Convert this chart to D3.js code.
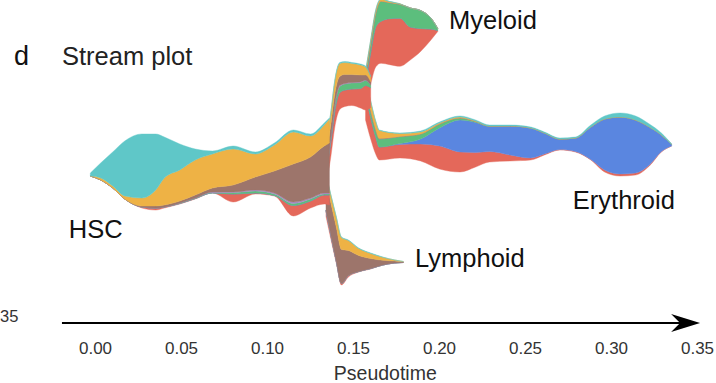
<!DOCTYPE html>
<html>
<head>
<meta charset="utf-8">
<script src="https://cdn.jsdelivr.net/npm/d3@7"></script>
<style>
  html, body { margin: 0; padding: 0; background: #fff; }
  svg { display: block; font-family: "Liberation Sans", Arial, sans-serif; }
</style>
</head>
<body>
<svg id="chart" width="716" height="383"></svg>
<script>
// ---------------------------------------------------------------------------
// Cell types (stack order, top to bottom) and their colours
const cellTypes = ['LTHSC', 'MPP', 'LMPP', 'HSPC', 'GMP', 'MEP', 'CMP'];
const cellColours = ['#5fc7c8', '#eeb245', '#9d756b', '#a98ac9', '#5cbe7d', '#5a86e0', '#e4685a'];

const ticks = [0.00, 0.05, 0.10, 0.15, 0.20, 0.25, 0.30, 0.35];

// Each branch: pseudotime, stream centre (layout units, up = +), and
// per-cell-type widths (one row per cell type, same order as cellTypes).

// HSC trunk
const hscTime   = [-0.003, 0.003, 0.010, 0.017, 0.027, 0.035, 0.040, 0.049, 0.058, 0.068, 0.080, 0.093, 0.104, 0.115, 0.125, 0.133, 0.136];
const hscCentre = [15.5, 18.5, 20, 20, 19, 18, 17.5, 16, 16, 18, 16, 17, 20.5, 17, 19, 26.5, 28.5];
const hscCells = [
  [3, 15, 34, 55, 64, 56, 41, 26, 11, 3, 3, 2, 2, 2, 2, 2, 1],
  [0, 2, 2, 3, 8, 16, 27, 31, 35, 34, 36, 23, 26, 32, 21, 21, 24],
  [0, 0, 0, 0, 1, 2, 2, 2, 3, 4, 7, 13, 22, 38, 41, 47, 50],
  [0, 0, 0, 0, 0, 0, 0, 0, 0, 0.5, 0.5, 1, 1, 1.5, 1, 1, 1],
  [0, 0, 0, 0, 0, 0, 0, 0.5, 0.5, 0.5, 1.5, 2, 1.5, 2, 2, 1, 1],
  [0, 0, 0, 0, 0, 0, 0, 0, 0, 0, 0, 0, 0, 0, 0, 0, 0],
  [0, 0, 0, 0, 1, 2, 1, 0.5, 0.5, 0, 8, 1, 0.5, 10.5, 7, 9, 10]
];

// common myeloid/erythroid progenitor branch
const preTime   = [0.134, 0.137, 0.139, 0.142, 0.145, 0.149, 0.154, 0.157, 0.160];
const preCentre = [25, 58, 85, 104, 106, 106, 104, 102, 98];
const preCells = [
  [1, 1, 1, 1, 1, 1, 1, 1, 0.5],
  [12, 12, 13, 13, 12, 11, 10, 8, 5],
  [14, 13, 11, 9, 9, 8, 7, 5, 3],
  [1, 1, 1, 1, 0.5, 0.5, 0.5, 0.5, 0],
  [2, 3, 5, 6, 6, 6, 6, 5, 3],
  [0, 0, 0, 0, 0, 0, 0, 0, 0],
  [14, 15, 16, 17, 16.5, 16.5, 19.5, 24.5, 20]
];

// Myeloid branch
const myeTime   = [0.157, 0.160, 0.163, 0.166, 0.171, 0.177, 0.183, 0.189, 0.195, 0.199];
const myeCentre = [100, 128, 152, 159, 157, 155, 156, 159, 161, 160];
const myeCells = [
  [0.5, 0.5, 0.5, 0.5, 0.3, 0, 0, 0, 0, 0],
  [3, 3, 3, 2, 1, 0.5, 0, 0, 0, 0],
  [2, 1, 0, 0, 0, 0, 0, 0, 0, 0],
  [0, 0, 0, 0, 0, 0, 0, 0, 0, 0],
  [6, 8, 14, 20, 16, 14, 19, 18, 11, 2],
  [0, 0, 0, 0, 0, 0, 0, 0, 0, 0],
  [26, 32, 40, 42, 46, 48, 33, 23, 11, 1]
];

// Erythroid branch
const eryTime   = [0.157, 0.160, 0.163, 0.165, 0.177, 0.189, 0.200, 0.212, 0.221, 0.229, 0.241, 0.253, 0.261, 0.270, 0.279, 0.288, 0.296, 0.305, 0.314, 0.322, 0.329, 0.335];
const eryCentre = [90, 70, 52, 45, 44.5, 44, 44.5, 46, 46.5, 46.5, 47, 46.5, 46.5, 46, 45.5, 47.5, 46, 45.5, 44.5, 45, 47.5, 45];
const eryCells = [
  [0.5, 0.5, 0.5, 0.5, 0.5, 1, 1, 1, 1, 1, 1, 1, 1, 1, 1, 2, 3, 4, 4, 3, 2, 0.5],
  [8, 9, 8, 8, 3, 2, 1, 1, 0.5, 0, 0, 0, 0, 0, 0, 0, 0, 0, 0, 0, 0, 0],
  [2, 1, 0.5, 0.5, 0, 0, 0, 0, 0, 0, 0, 0, 0, 0, 0, 0, 0, 0, 0, 0, 0, 0],
  [0.5, 0, 0, 0, 0, 0, 0, 0, 0, 0, 0, 0, 0, 0, 0, 0, 0, 0, 0, 0, 0, 0],
  [4, 6, 7, 8, 7, 5, 4, 2, 1, 0.5, 0, 0, 0, 0, 0, 0, 0, 0, 0, 0, 0, 0],
  [0, 0, 0, 0, 1, 5, 18, 32, 30, 25, 29, 30, 21, 10.5, 13.5, 32.5, 51, 57, 53, 38, 16.5, 1.5],
  [25, 21.5, 17, 13, 13.5, 17, 23, 20, 14.5, 10.5, 6, 2, 1, 0.5, 0.5, 0.5, 2, 2, 2, 1, 0.5, 0]
];

// Lymphoid branch
const lymTime   = [0.134, 0.137, 0.140, 0.143, 0.147, 0.153, 0.160, 0.167, 0.174, 0.179];
const lymCentre = [-5, -28, -50, -71, -68.5, -70, -71, -71, -71.5, -72];
const lymCells = [
  [0.5, 0.5, 0.5, 0.5, 0.5, 0.5, 0.5, 0.3, 0, 0],
  [6, 8, 10, 12, 10, 7, 5, 3, 1, 0.3],
  [30, 32, 34, 34, 25, 16, 10, 4.7, 2, 0.7],
  [0, 0, 0, 0, 0, 0, 0, 0, 0, 0],
  [0, 0, 0, 0, 0, 0, 0, 0, 0, 0],
  [0, 0, 0, 0, 0, 0, 0, 0, 0, 0],
  [6, 4, 2, 1.5, 1.5, 0.5, 0.5, 0, 0, 0]
];

// branch end labels: [text, pseudotime, layout y]
const branchLabels = [
  ['HSC', -0.0155, -48],
  ['Myeloid', 0.2055, 161],
  ['Erythroid', 0.2775, -19],
  ['Lymphoid', 0.1858, -77]
];

// ---------------------------------------------------------------------------

const svg = d3.select('#chart');

const x = d3.scaleLinear().domain([0, 0.35]).range([95.5, 697.5]);
const y = d3.scaleLinear().domain([100, -100]).range([90, 290]);
const colour = d3.scaleOrdinal().domain(cellTypes).range(cellColours);

// stack offset that centres every column on the branch centre line
function centreOn(rows) {
  return (series, order) => {
    for (let j = 0; j < series[0].length; ++j) {
      let total = 0;
      for (const i of order) total += series[i][j][1] - series[i][j][0];
      let base = rows[j].centre - total / 2;
      for (const i of order) {
        const h = series[i][j][1] - series[i][j][0];
        series[i][j][0] = base;
        base += h;
        series[i][j][1] = base;
      }
    }
  };
}

const area = d3.area()
  .x(d => x(d.data.t))
  .y0(d => y(d[0]))
  .y1(d => y(d[1]))
  .curve(d3.curveMonotoneX);

function drawBranch(time, centre, cells) {
  const rows = time.map((t, j) => {
    const row = { t, centre: centre[j] };
    cellTypes.forEach((c, k) => { row[c] = cells[k][j]; });
    return row;
  });
  // bottom layer first (y grows upward in layout units)
  const stack = d3.stack()
    .keys(cellTypes.slice().reverse())
    .offset(centreOn(rows));

  svg.append('g')
    .selectAll('path')
    .data(stack(rows))
    .join('path')
    .attr('d', area)
    .attr('fill', d => colour(d.key))
    .attr('stroke', d => colour(d.key))
    .attr('stroke-width', 0.4);
}

drawBranch(lymTime, lymCentre, lymCells);
drawBranch(eryTime, eryCentre, eryCells);
drawBranch(myeTime, myeCentre, myeCells);
drawBranch(preTime, preCentre, preCells);
drawBranch(hscTime, hscCentre, hscCells);

// branch labels
svg.append('g')
  .selectAll('text')
  .data(branchLabels)
  .join('text')
  .attr('x', d => x(d[1]))
  .attr('y', d => y(d[2]))
  .attr('font-size', 25.5)
  .attr('fill', '#111')
  .text(d => d[0]);

// panel letter + title
svg.append('text').attr('x', 14).attr('y', 65)
  .attr('font-size', 27).attr('fill', '#111').text('d');
svg.append('text').attr('x', 62).attr('y', 65)
  .attr('font-size', 25.5).attr('fill', '#222').text('Stream plot');

// tick label left over from the neighbouring panel
svg.append('text').attr('x', 0).attr('y', 322)
  .attr('font-size', 16.5).attr('fill', '#333')
  .text('35');

// pseudotime axis with arrow
const axisY = 323;
svg.append('line')
  .attr('x1', x(-0.0195)).attr('x2', x(0.346))
  .attr('y1', axisY).attr('y2', axisY)
  .attr('stroke', '#000').attr('stroke-width', 2.2);

const tip = x(0.3515);
svg.append('path')
  .attr('d', `M${tip},${axisY} L${tip - 29},${axisY - 9} L${tip - 20},${axisY} L${tip - 29},${axisY + 9} Z`)
  .attr('fill', '#000');

svg.append('g')
  .selectAll('text')
  .data(ticks)
  .join('text')
  .attr('x', d => x(d))
  .attr('y', 354)
  .attr('text-anchor', 'middle')
  .attr('font-size', 17)
  .attr('fill', '#333')
  .text(d3.format('.2f'));

svg.append('text')
  .attr('x', x(0.1685)).attr('y', 380)
  .attr('text-anchor', 'middle')
  .attr('font-size', 19.5)
  .attr('fill', '#333')
  .text('Pseudotime');
</script>
</body>
</html>
